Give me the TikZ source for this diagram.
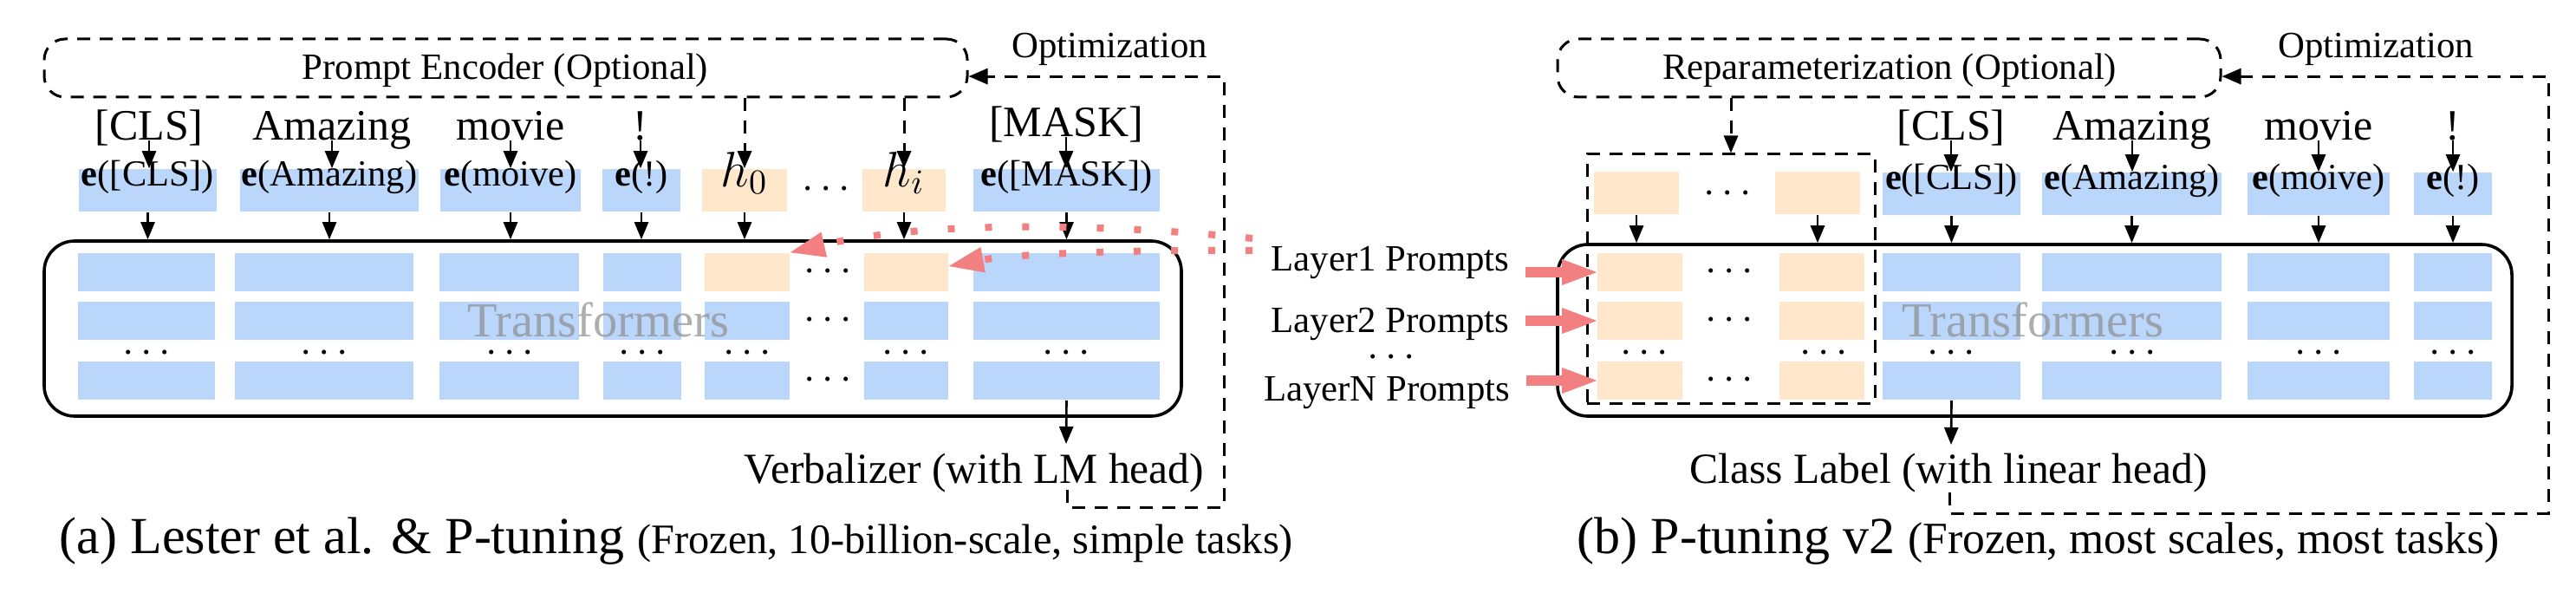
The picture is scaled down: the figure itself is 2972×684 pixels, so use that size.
\documentclass[tikz,border=0pt]{standalone}
\usepackage[no-math]{fontspec}
\setmainfont{Liberation Serif}
\usetikzlibrary{fit,arrows.meta}
\definecolor{cblue}{RGB}{186,214,251}
\definecolor{corange}{RGB}{255,231,204}
\definecolor{cred}{RGB}{242,128,128}
\tikzset{
  bluecell/.style={fill=cblue, inner sep=0pt, draw=none},
  orangecell/.style={fill=corange, inner sep=0pt, draw=none},
  tframe/.style={draw, line width=0.9pt, rounded corners=8.75pt, inner sep=0pt},
  dashbox/.style={draw, dash pattern=on 3.75pt off 2.75pt, line width=0.75pt, rounded corners=6pt, inner sep=0pt},
  dashrect/.style={draw, dash pattern=on 3.75pt off 2.75pt, line width=0.75pt, inner sep=0pt},
  arr/.style={line width=0.65pt, -{Triangle[length=5pt,width=4pt]}},
  dasharr/.style={line width=0.75pt, dash pattern=on 3.75pt off 2.75pt, -{Triangle[length=5pt,width=4pt]}},
  optarr/.style={line width=0.75pt, dash pattern=on 3.75pt off 2.75pt, -{Triangle[length=5.5pt,width=4.5pt]}},
  redarr/.style={draw=cred, line width=3pt, -{Triangle[length=10pt,width=7.5pt,line width=0pt]}, shorten <=4.5pt},
  reddot/.style={draw=cred, line width=2pt, dash pattern=on 2pt off 8.75pt, -{Triangle[length=10pt,width=7.5pt,line width=0pt]}},
  wordtxt/.style={font=\fontsize{12.5}{14}\selectfont, inner sep=0pt, anchor=base},
  elab/.style={font=\fontsize{10.6}{12}\selectfont},
  smalltxt/.style={font=\fontsize{10.7}{12}\selectfont, inner sep=0pt},
  midtxt/.style={font=\fontsize{12.4}{14}\selectfont, inner sep=0pt, anchor=base},
  hlab/.style={font=\fontsize{13.75}{15}\selectfont},
  dotn/.style={font=\fontsize{11.5}{12}\selectfont, inner sep=0pt},
  tfont/.style={font=\fontsize{14.1}{16}\selectfont, text=black!45, text opacity=0.7, inner sep=0pt, anchor=base},
  captxt/.style={font=\fontsize{15}{18}\selectfont, inner sep=0pt, anchor=base west}
}
\begin{document}
\begin{tikzpicture}[x=0.25pt, y=-0.25pt]
\useasboundingbox (0,0) rectangle (2972,684);

% ================= Panel (a) =================
\node[dashbox, fit={(51,45) (1116,112)}] (pe) {};
\node[smalltxt, anchor=base] (pet) at (583,92) {Prompt Encoder (Optional)};
\node[smalltxt, anchor=base] (opta) at (1280,67) {Optimization};

\node[wordtxt] (wa1) at (172,162) {[CLS]};
\node[wordtxt] (wa2) at (383,162) {Amazing};
\node[wordtxt] (wa3) at (589,162) {movie};
\node[wordtxt] (wa4) at (739,162) {!};
\node[wordtxt] (wa5) at (1230,158) {[MASK]};

\node[bluecell, elab, fit={(91,195) (250,244)}] (ea1) {\textbf{e}([CLS])};
\node[bluecell, elab, fit={(277,195) (483,244)}] (ea2) {\textbf{e}(Amazing)};
\node[bluecell, elab, fit={(508,195) (670,244)}] (ea3) {\textbf{e}(moive)};
\node[bluecell, elab, fit={(695,195) (785,244)}] (ea4) {\textbf{e}(!)};
\node[orangecell, hlab, fit={(810,195) (908,244)}] (ha0) {$h_0$};
\node[orangecell, hlab, fit={(995,195) (1091,244)}] (hai) {$h_i$};
\node[bluecell, elab, fit={(1123,195) (1338,244)}] (ea5) {\textbf{e}([MASK])};
\node[dotn] (dea) at (953,219) {$\cdots$};

\node[tframe, fit={(51,278) (1363,480)}] (ta) {};

\foreach \c/\xa/\xb in {1/90/248,2/271/477,3/507/668,4/696/786,5/813/911,6/997/1094,7/1123/1338}{
  \foreach \r/\ya/\yb in {2/348/392,3/417/461}{
    \node[bluecell, fit={(\xa,\ya) (\xb,\yb)}] (ca\c r\r) {};
  }
}
\foreach \c/\xa/\xb in {1/90/248,2/271/477,3/507/668,4/696/786,7/1123/1338}{
  \node[bluecell, fit={(\xa,292) (\xb,336)}] (ca\c r1) {};
}
\node[orangecell, fit={(813,292) (911,336)}] (ca5r1) {};
\node[orangecell, fit={(997,292) (1094,336)}] (ca6r1) {};

\foreach \c/\x in {1/169,2/374,3/588,4/741,5/862,6/1045,7/1230}{
  \node[dotn] (da\c) at (\x,408) {$\cdots$};
}
\foreach \r/\y in {1/314,2/370,3/439}{
  \node[dotn] (dha\r) at (955,\y) {$\cdots$};
}
\node[tfont] (tfa) at (690,388) {Transformers};

% arrows (a)
\foreach \i in {1,2,3,4,5}{
  \draw[arr] (wa\i.base) -- (wa\i.base |- ea\i.north);
  \draw[arr] (ea\i.south) -- (ea\i.south |- ta.north);
}
\draw[arr] (ha0.south) -- (ha0.south |- ta.north);
\draw[arr] (hai.south) -- (hai.south |- ta.north);
\draw[dasharr] (ha0.north |- pe.south) -- (ha0.north);
\draw[dasharr] (hai.north |- pe.south) -- (hai.north);

\node[midtxt] (verb) at (1124,557) {Verbalizer (with LM head)};
\coordinate (vta) at (1230,512);
\draw[arr] (ca7r3.south) -- (vta);
\coordinate (oa1) at (1231,565);
\coordinate (oa2) at (1412,585);
\draw[optarr] (oa1) |- (oa2) |- ([yshift=-2.4pt]pe.east);

\node[captxt] (capa) at (68,638) {(a) Lester et al. \& P-tuning {\fontsize{12.1}{14}\selectfont (Frozen, 10-billion-scale, simple tasks)}};

% ================= Panel (b) =================
\node[dashbox, fit={(1797,45) (2562,112)}] (rp) {};
\node[smalltxt, anchor=base] (rpt) at (2180,92) {Reparameterization (Optional)};
\node[smalltxt, anchor=base] (optb) at (2741,67) {Optimization};

\node[wordtxt] (wb1) at (2251,162) {[CLS]};
\node[wordtxt] (wb2) at (2460,162) {Amazing};
\node[wordtxt] (wb3) at (2675,162) {movie};
\node[wordtxt] (wb4) at (2830,162) {!};

\node[bluecell, elab, fit={(2172,199) (2331,248)}] (eb1) {\textbf{e}([CLS])};
\node[bluecell, elab, fit={(2356,199) (2563,248)}] (eb2) {\textbf{e}(Amazing)};
\node[bluecell, elab, fit={(2593,199) (2757,248)}] (eb3) {\textbf{e}(moive)};
\node[bluecell, elab, fit={(2785,199) (2875,248)}] (eb4) {\textbf{e}(!)};

\node[orangecell, fit={(1839,198) (1937,247)}] (pb1) {};
\node[orangecell, fit={(2048,198) (2146,247)}] (pb2) {};
\node[dotn] (dpb) at (1993,224) {$\cdots$};

\node[tframe, fit={(1797,282) (2898,480)}] (tb) {};

\foreach \c/\xa/\xb in {1/2172/2331,2/2356/2563,3/2593/2757,4/2785/2875}{
  \foreach \r/\ya/\yb in {1/292/336,2/348/392,3/417/461}{
    \node[bluecell, fit={(\xa,\ya) (\xb,\yb)}] (cb\c r\r) {};
  }
}
\foreach \c/\xa/\xb in {1/1843/1941,2/2053/2151}{
  \foreach \r/\ya/\yb in {1/292/336,2/348/392,3/417/461}{
    \node[orangecell, fit={(\xa,\ya) (\xb,\yb)}] (cp\c r\r) {};
  }
}
\foreach \c/\x in {1/1897,2/2104,3/2251,4/2460,5/2675,6/2830}{
  \node[dotn] (db\c) at (\x,408) {$\cdots$};
}
\foreach \r/\y in {1/314,2/370,3/439}{
  \node[dotn] (dpp\r) at (1995,\y) {$\cdots$};
}
\node[tfont] (tfb) at (2345,388) {Transformers};

\node[dashrect, fit={(1831,178) (2163,465)}] (dbox) {};
\draw[dasharr] (dbox.north |- rp.south) -- (dbox.north);

\foreach \i in {1,2,3,4}{
  \draw[arr] (wb\i.base) -- (wb\i.base |- eb\i.north);
  \draw[arr] (eb\i.south) -- (eb\i.south |- tb.north);
}
\draw[arr] (pb1.south) -- (pb1.south |- tb.north);
\draw[arr] (pb2.south) -- (pb2.south |- tb.north);

\node[midtxt] (cl) at (2248,557) {Class Label (with linear head)};
\coordinate (ctb) at (2251,513);
\draw[arr] (cb1r3.south) -- (ctb);
\coordinate (ob1) at (2249,568);
\coordinate (ob2) at (2940,592);
\draw[optarr] (ob1) |- (ob2) |- ([yshift=-2.4pt]rp.east);

\node[smalltxt, anchor=base east] (l1) at (1742,312) {Layer1 Prompts};
\node[smalltxt, anchor=base east] (l2) at (1742,383) {Layer2 Prompts};
\node[dotn] (ld) at (1605,413) {$\cdots$};
\node[smalltxt, anchor=base east] (ln) at (1743,462) {LayerN Prompts};

\draw[redarr] (l1.east |- cp1r1.west) -- (cp1r1.west);
\draw[redarr] (l2.east |- cp1r2.west) -- (cp1r2.west);
\draw[redarr] (ln.east |- cp1r3.west) -- (cp1r3.west);

% red dotted links into panel (a)
\coordinate (rs1) at (1445,275);
\coordinate (rs2) at (1445,289);
\draw[reddot] (rs1) .. controls (1300,260) and (1080,252) .. (ca5r1.north east);
\draw[reddot] (rs2) .. controls (1300,288) and (1170,293) .. ([yshift=1.75pt]ca6r1.east);

\node[captxt] (capb) at (1819,638) {(b) P-tuning v2 {\fontsize{12.9}{14}\selectfont (Frozen, most scales, most tasks)}};
\end{tikzpicture}
\end{document}
